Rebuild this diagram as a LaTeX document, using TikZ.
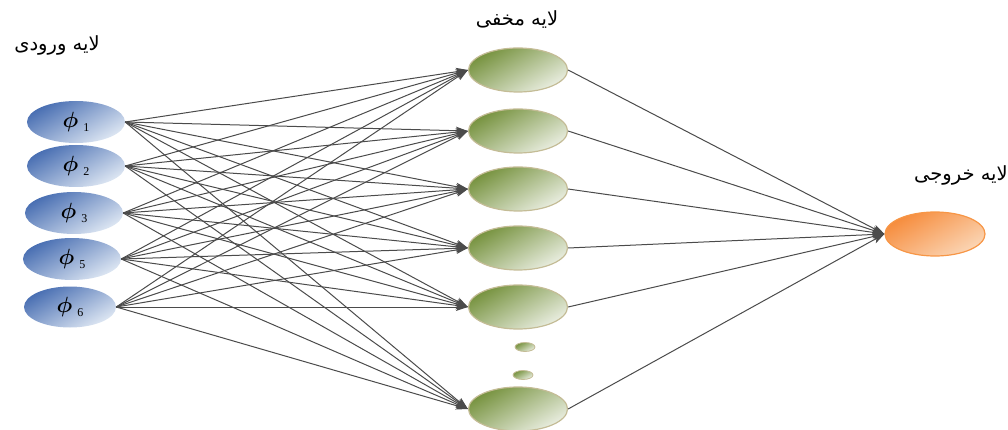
\documentclass[tikz,border=0pt]{standalone}
\usepackage{fontspec}
\setmainfont{Liberation Serif}
\newfontfamily\arabicfont[Script=Arabic]{DejaVu Sans}
\TeXXeTstate=1
\usetikzlibrary{shapes.geometric,arrows.meta}
\begin{document}
\begin{tikzpicture}[x=1pt,y=-1pt,
  inbox/.style={ellipse, inner sep=0pt, minimum width=98pt, minimum height=42pt, draw=none,
    top color={rgb,255:red,72;green,110;blue,178}, bottom color={rgb,255:red,222;green,231;blue,243}, shading angle=30},
  hidbox/.style={ellipse, inner sep=0pt, minimum width=99pt, minimum height=44pt,
    top color={rgb,255:red,118;green,146;blue,62}, bottom color={rgb,255:red,234;green,238;blue,225}, shading angle=30,
    draw={rgb,255:red,196;green,188;blue,150}, line width=1.2pt},
  outbox/.style={ellipse, inner sep=0pt, minimum width=100pt, minimum height=44pt,
    top color={rgb,255:red,246;green,140;blue,60}, bottom color={rgb,255:red,251;green,214;blue,182}, shading angle=30,
    draw={rgb,255:red,247;green,150;blue,70}, line width=1.2pt},
  conn/.style={draw={rgb,255:red,75;green,75;blue,75}, line width=1pt, -{Stealth[length=12pt,width=8pt,inset=3pt]}},
  lbl/.style={font=\arabicfont\fontsize{19.5}{22}\selectfont, inner sep=0pt}
]
\useasboundingbox (0,0) rectangle (1008,430);
\newcommand{\phin}[1]{{\fontsize{10}{12}\selectfont\scalebox{2.2}{\boldmath$\phi$}}\hspace{5pt}\raisebox{-4pt}{\fontsize{12}{13}\selectfont #1}}

% input layer
\node[inbox] (i1) at (76,122) {\phin{1}};
\node[inbox] (i2) at (76,166) {\phin{2}};
\node[inbox] (i3) at (74,213) {\phin{3}};
\node[inbox] (i4) at (72,259) {\phin{5}};
\node[inbox, minimum width=92pt, minimum height=41pt] (i5) at (70,307) {\phin{6}};

% hidden layer
\node[hidbox] (h1) at (518,70) {};
\node[hidbox] (h2) at (518,131) {};
\node[hidbox] (h3) at (518,189) {};
\node[hidbox] (h4) at (518,248) {};
\node[hidbox] (h5) at (518,307) {};
\node[hidbox] (h6) at (518,409) {};
\node[hidbox, minimum width=20pt, minimum height=9pt, line width=0.8pt] (d1) at (525,347) {};
\node[hidbox, minimum width=20pt, minimum height=9pt, line width=0.8pt] (d2) at (523,375) {};

% output layer
\node[outbox] (o) at (935,234) {};

% labels
\node[lbl] (li) at (57,45) {\beginR لایه ورودی\endR};
\node[lbl] (lh) at (517,20) {\beginR لایه مخفی\endR};
\node[lbl, anchor=east] (lo) at (1008,175) {\beginR لایه خروجی\endR};

% connections
\foreach \i in {1,...,5}{
  \foreach \h in {1,...,6}{
    \draw[conn] (i\i.east) -- (h\h.west);
  }
}
\foreach \h in {1,...,6}{
  \draw[conn] (h\h.east) -- (o.west);
}
\end{tikzpicture}
\end{document}
